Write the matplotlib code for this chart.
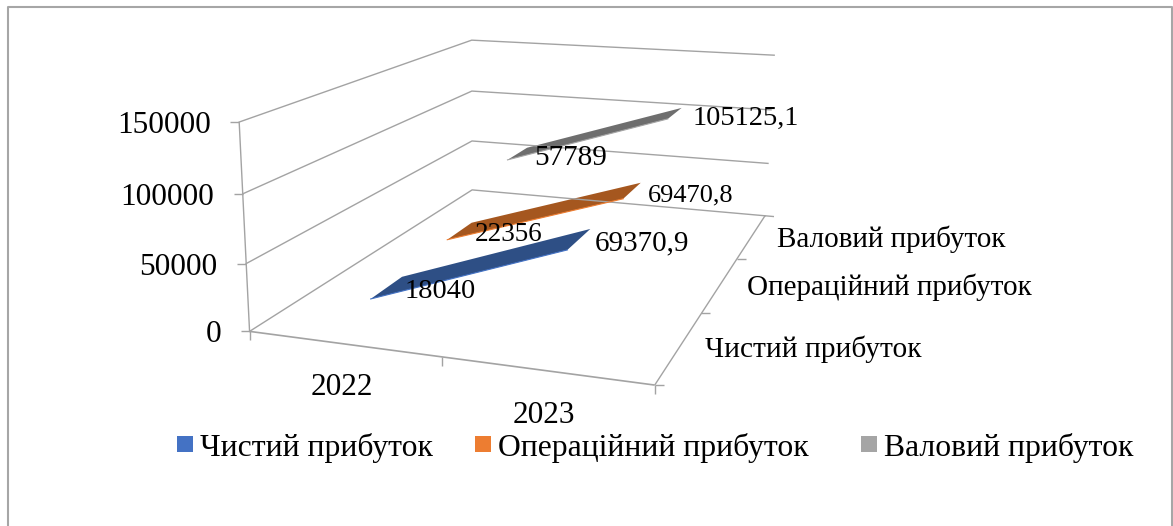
import numpy as np
import matplotlib
matplotlib.use('Agg')
import matplotlib.pyplot as plt
from matplotlib.patches import Polygon, Rectangle

YEARS = ['2022', '2023']
SERIES = ['Чистий прибуток', 'Операційний прибуток', 'Валовий прибуток']
NET_PROFIT = [18040, 69370.9]
OPERATING_PROFIT = [22356, 69470.8]
GROSS_PROFIT = [57789, 105125.1]
VALUE_LABELS = [['18040', '69370,9'], ['22356', '69470,8'], ['57789', '105125,1']]
VALUE_TICKS = [0, 50000, 100000, 150000]

FILL = ['#2E4F85', '#A5571F', '#6E6E6E']
EDGE = ['#4472C4', '#ED7D31', '#A5A5A5']
LEGEND_COL = ['#4472C4', '#ED7D31', '#A5A5A5']
GRID = '#A3A3A3'
YMAX = 150000

# corners of the 3d box in pixels: (x, depth, height) -> pixel
CORNERS = [
    ((0, 0, 0), (249.5, 331)), ((1, 0, 0), (655, 385)),
    ((1, 1, 0), (765, 216)), ((0, 1, 0), (472, 190)),
    ((0, 0, 1), (239, 122.5)), ((0, 1, 1), (472, 40)),
    ((1, 1, 1), (774, 55)),
]


def fit_camera(corners):
    rows, rhs = [], []
    for (x, d, z), (u, v) in corners:
        rows.append([x, d, z, 1, 0, 0, 0, 0, -u * x, -u * d, -u * z])
        rows.append([0, 0, 0, 0, x, d, z, 1, -v * x, -v * d, -v * z])
        rhs += [u, v]
    sol = np.linalg.lstsq(np.array(rows, float), np.array(rhs, float), rcond=None)[0]
    return np.append(sol, 1).reshape(3, 4)


CAM = fit_camera(CORNERS)


def project(x, d, value):
    p = CAM @ np.array([x, d, value / YMAX, 1.0])
    return p[0] / p[2], p[1] / p[2]


plt.rcParams['font.family'] = ['Liberation Serif', 'DejaVu Serif']
fig = plt.figure(figsize=(11.73, 5.26), dpi=100)
ax = fig.add_axes([0, 0, 1, 1])
ax.set_xlim(0, 1173)
ax.set_ylim(526, 0)
ax.axis('off')

# outer frame (no bottom line in the picture)
ax.plot([8, 8, 1171.5, 1171.5], [526, 6.5, 6.5, 526], color='#A6A6A6', lw=1.5)


def line(a, b, lw=1.0):
    ax.plot([a[0], b[0]], [a[1], b[1]], color=GRID, lw=lw, solid_capstyle='butt')


# gridlines on the walls
for val in VALUE_TICKS:
    fl, bl, br = project(0, 0, val), project(0, 1, val), project(1, 1, val)
    ax.plot([fl[0], bl[0], br[0]], [fl[1], bl[1], br[1]], color=GRID, lw=1.0)
    line(fl, (fl[0] - 9, fl[1]))
    ax.text(fl[0] - 28.5, fl[1] + 11, str(val), ha='right', va='baseline', fontsize=22.5)

# axis lines of the floor
line(project(0, 0, 0), project(0, 0, YMAX))
line(project(0, 0, 0), project(1, 0, 0), 1.2)
line(project(1, 0, 0), project(1, 1, 0))
line(project(1, 1, 0), (774, project(1, 1, 0)[1] + 0.8))
for x in [0, 0.5, 1]:
    p = project(x, 0, 0)
    line(p, (p[0], p[1] + 9))
for d in [0, 1 / 3, 2 / 3]:
    p = project(1, d, 0)
    line(p, (p[0] + 9, p[1]))

# ribbons, back row first
rows = [NET_PROFIT, OPERATING_PROFIT, GROSS_PROFIT]
RIBBON = 0.063
for i in [2, 1, 0]:
    d = (i + 0.5) / 3
    v0, v1 = rows[i]
    pts = [project(0.25, d - RIBBON, v0), project(0.75, d - RIBBON, v1),
           project(0.75, d + RIBBON, v1), project(0.25, d + RIBBON, v0)]
    ax.add_patch(Polygon(pts, closed=True, facecolor=FILL[i], edgecolor='none'))
    ax.plot([pts[0][0], pts[1][0]], [pts[0][1], pts[1][1]], color=EDGE[i], lw=0.8)

# value labels
VALUE_POS = [[(405, 298, 20.5), (595, 250, 21)],
             [(475, 241, 19.5), (648, 201, 19)],
             [(534, 165, 21), (693, 125, 20.5)]]
for labels, places in zip(VALUE_LABELS, VALUE_POS):
    for s, (px, py, fs) in zip(labels, places):
        ax.text(px, py, s, ha='left', va='baseline', fontsize=fs)

# category and series labels
ax.text(342, 395, YEARS[0], ha='center', va='baseline', fontsize=22.5)
ax.text(544, 423, YEARS[1], ha='center', va='baseline', fontsize=22.5)
DEPTH_POS = [(705, 357, 21.2), (747, 295, 21), (777, 247, 21)]
for s, (px, py, fs) in zip(SERIES, DEPTH_POS):
    ax.text(px, py, s, ha='left', va='baseline', fontsize=fs)

# legend
LEGEND_X = [177, 475, 861]
for s, c, x0 in zip(SERIES, LEGEND_COL, LEGEND_X):
    ax.add_patch(Rectangle((x0, 436), 16, 16, facecolor=c, edgecolor='none'))
    ax.text(x0 + 23, 456, s, ha='left', va='baseline', fontsize=22.8)

fig.savefig('out.png', dpi=100)
